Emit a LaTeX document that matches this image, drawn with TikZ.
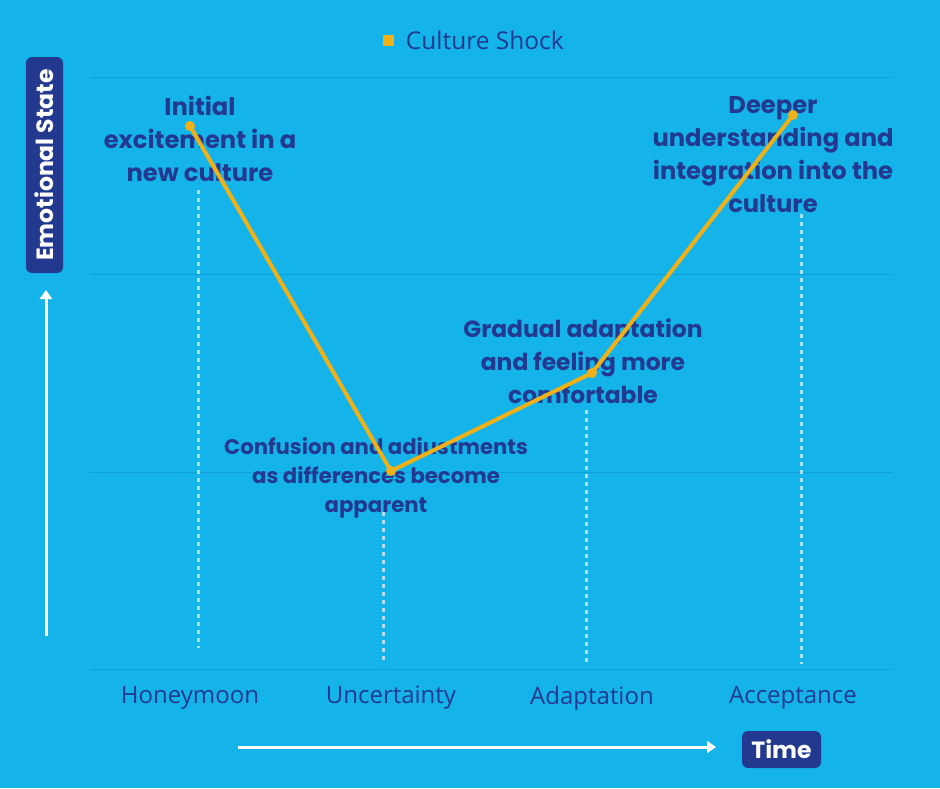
\documentclass[tikz,border=0pt]{standalone}
\usepackage{fontspec}
\usetikzlibrary{arrows.meta,positioning}
\setmainfont{Open Sans}
\newfontfamily\headfont{Poppins}
\definecolor{sky}{HTML}{14B4EA}
\definecolor{gridblue}{HTML}{0E9FD8}
\definecolor{navy}{HTML}{22398F}
\definecolor{gold}{HTML}{F1B116}
\definecolor{drop}{HTML}{A8E0F6}
\tikzset{>/.tip={Triangle[length=9pt,width=12pt]}}
\tikzset{note/.style={text=navy,font=\headfont\bfseries\fontsize{24.2}{33}\selectfont,align=center}}
\tikzset{stage/.style={text=navy,font=\fontsize{24}{28}\selectfont}}
\tikzset{tag/.style={fill=navy,text=white,rounded corners=6pt,font=\headfont\bfseries\fontsize{23.5}{26}\selectfont}}
\tikzset{dropline/.style={drop,line width=3pt,dash pattern=on 4pt off 4pt}}
\tikzset{pt/.style={circle,fill=gold,inner sep=0pt,minimum size=10pt}}

\begin{document}
\begin{tikzpicture}[x=1pt,y=-1pt]
        \fill[sky] (0,0) rectangle (940,788);
        \useasboundingbox (0,0) rectangle (940,788);
        \foreach \y in {77,274,472,669}
          \draw[gridblue,line width=1pt] (90,\y) -- (892,\y);
        % legend
        \node(key)[fill=gold,inner sep=0pt,minimum size=11pt] at (388,40){};
        \node(keytxt)[right=12pt of key,stage,inner sep=0pt,font=\fontsize{24.5}{28}\selectfont]{Culture Shock};
        % stages
        \node(honey)[stage] at (190,698){Honeymoon};
        \node(uncert)[stage] at (391,698){Uncertainty};
        \node(adapt)[stage] at (592,698){Adaptation};
        \node(accept)[stage] at (793,698){Acceptance};
        % drop lines
        \draw[dropline] (198,190) -- (198,648);
        \draw[dropline] (383,512) -- (383,664);
        \draw[dropline] (586,410) -- (586,664);
        \draw[dropline] (801,214) -- (801,664);
        % notes
        \node(initial)[note] at (200,139){Initial\\excitement in a\\new culture};
        \node(deeper)[note] at (773,155){Deeper\\understanding and\\integration into the\\culture};
        \node(gradual)[note,font=\headfont\bfseries\fontsize{23.4}{33}\selectfont] at (583,361){Gradual adaptation\\and feeling more\\comfortable};
        \node(confusion)[note,font=\headfont\bfseries\fontsize{21.2}{29}\selectfont] at (376,478){Confusion and adjustments\\as differences become\\apparent};
        % curve
        \node(p1)[pt] at (190,126){};
        \node(p2)[pt] at (391,471){};
        \node(p3)[pt] at (592,373){};
        \node(p4)[pt] at (793,115){};
        \draw[gold,line width=4pt,line join=round]
        (p1.center) -- (p2.center) -- (p3.center) -- (p4.center);
        % axes
        \node(emo)[tag,rotate=90,minimum width=216pt,minimum height=37pt] at (44.5,165){Emotional State};
        \node(time)[tag,minimum width=79pt,minimum height=37pt] at (781.5,749.5){Time};
        \coordinate(ybase) at (46,636);
        \coordinate(ytop) at (46,290);
        \coordinate(xbase) at (238,747);
        \coordinate(xtip) at (716,747);
        \draw[->,white,line width=3pt] (ybase) -- (ytop);
        \draw[->,white,line width=3pt] (xbase) -- (xtip);
      \end{tikzpicture}
\end{document}
